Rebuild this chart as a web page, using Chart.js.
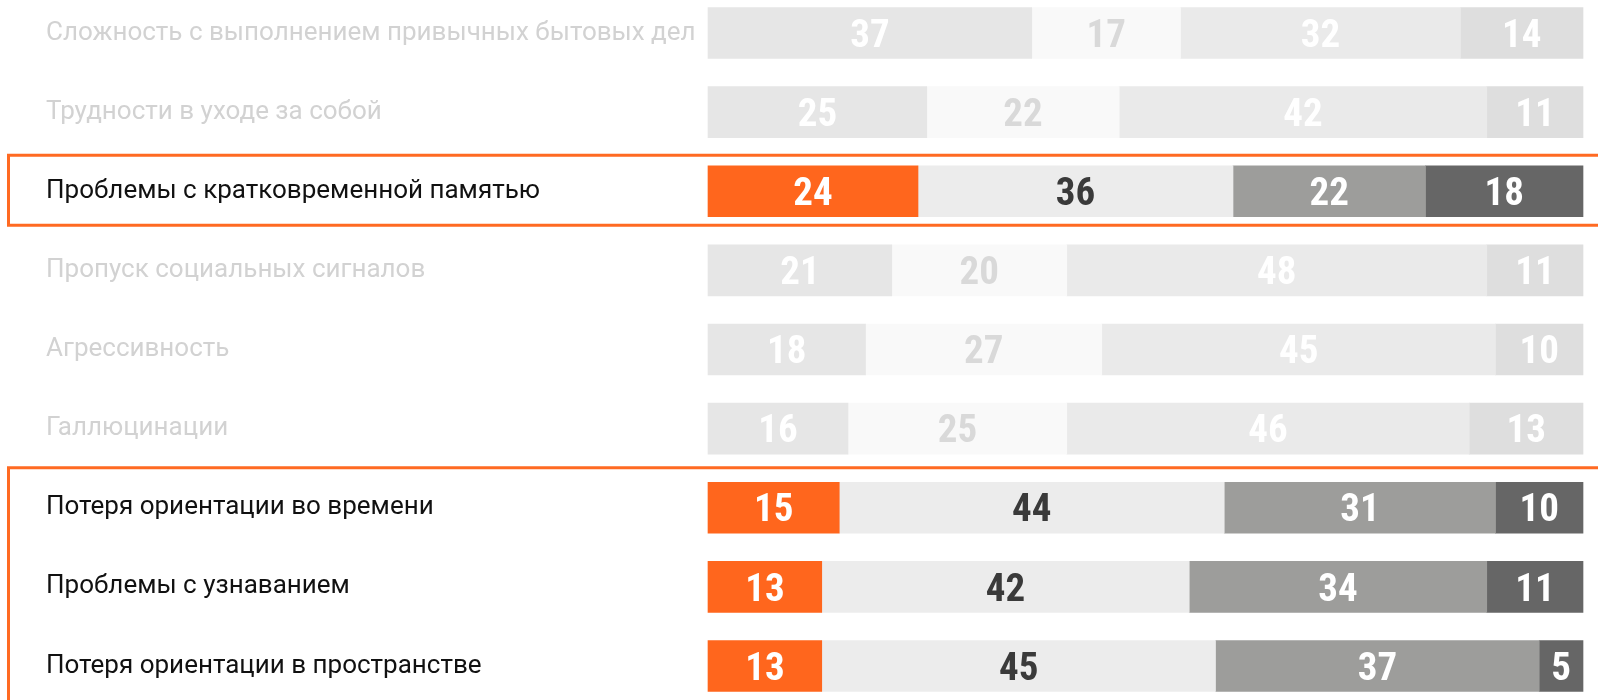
<!DOCTYPE html>
<html>
<head>
<meta charset="utf-8">
<script src="https://cdn.jsdelivr.net/npm/chart.js@4/dist/chart.umd.min.js"></script>
<style>
  html, body { margin: 0; padding: 0; background: #ffffff; }
  #wrap { width: 1598px; height: 700px; position: relative; }
</style>
</head>
<body>
<div id="wrap"><canvas id="c" width="1598" height="700"></canvas></div>
<script>
const categories = [
  'Сложность с выполнением привычных бытовых дел',
  'Трудности в уходе за собой',
  'Проблемы с кратковременной памятью',
  'Пропуск социальных сигналов',
  'Агрессивность',
  'Галлюцинации',
  'Потеря ориентации во времени',
  'Проблемы с узнаванием',
  'Потеря ориентации в пространстве'
];
const series1 = [37, 25, 24, 21, 18, 16, 15, 13, 13];
const series2 = [17, 22, 36, 20, 27, 25, 44, 42, 45];
const series3 = [32, 42, 22, 48, 45, 46, 31, 34, 37];
const series4 = [14, 11, 18, 11, 10, 13, 10, 11, 5];
const highlighted = [false, false, true, false, false, false, true, true, true];
const highlightGroups = [[2, 2], [6, 8]];

const strongColors = ['#FF661D', '#ECECEC', '#9D9D9B', '#666666'];
const fadedColors  = ['#E6E6E6', '#F9F9F9', '#EAEAEA', '#DEDEDE'];
const strongText   = ['#FFFFFF', '#3A3A3A', '#FFFFFF', '#FFFFFF'];
const fadedText    = ['#FFFFFF', '#D9D9D9', '#FFFFFF', '#FFFFFF'];

function makeDataset(values, k) {
  return {
    label: 'S' + (k + 1),
    data: values,
    backgroundColor: ctx => highlighted[ctx.dataIndex] ? strongColors[k] : fadedColors[k],
    borderWidth: 0,
    barThickness: 51,
    clip: false
  };
}

const valueLabels = {
  id: 'valueLabels',
  afterDatasetsDraw(chart) {
    const ctx = chart.ctx;
    ctx.save();
    const size = 39;
    ctx.font = 'bold ' + size + 'px "Liberation Sans Narrow", "Roboto Condensed", Roboto, sans-serif';
    ctx.textAlign = 'center';
    ctx.textBaseline = 'alphabetic';
    chart.data.datasets.forEach((ds, di) => {
      const meta = chart.getDatasetMeta(di);
      meta.data.forEach((bar, i) => {
        const cx = (bar.x + bar.base) / 2;
        ctx.fillStyle = highlighted[i] ? strongText[di] : fadedText[di];
        ctx.fillText(String(ds.data[i]), cx, bar.y + size * 0.35);
      });
    });
    ctx.restore();
  }
};

const boxes = {
  id: 'boxes',
  afterDraw(chart) {
    const ctx = chart.ctx;
    const y = chart.scales.y;
    ctx.save();
    ctx.strokeStyle = '#FF6A22';
    ctx.lineWidth = 3;
    highlightGroups.forEach(([a, b], gi) => {
      const top = y.getPixelForValue(a) - (gi === 0 ? 36 : 40);
      const bottom = gi === 0 ? y.getPixelForValue(b) + 34 : chart.height + 20;
      ctx.strokeRect(8.5, top, chart.width + 20, bottom - top);
    });
    ctx.restore();
  }
};

new Chart(document.getElementById('c'), {
  type: 'bar',
  data: {
    labels: categories,
    datasets: [
      makeDataset(series1, 0),
      makeDataset(series2, 1),
      makeDataset(series3, 2),
      makeDataset(series4, 3)
    ]
  },
  options: {
    indexAxis: 'y',
    responsive: false,
    devicePixelRatio: 1,
    animation: false,
    events: [],
    layout: { padding: { left: 46, right: 15, top: 33, bottom: 34 } },
    plugins: { legend: { display: false }, tooltip: { enabled: false } },
    scales: {
      x: { stacked: true, min: 0, max: 100, display: false },
      y: {
        stacked: true,
        offset: false,
        grid: { display: false },
        border: { display: false },
        afterFit(scale) { scale.width = 662; },
        ticks: {
          autoSkip: false,
          crossAlign: 'far',
          padding: 0,
          color: ctx => highlighted[ctx.index] ? '#111111' : '#D2D2D2',
          font: { family: 'Roboto', size: 26 }
        }
      }
    }
  },
  plugins: [valueLabels, boxes]
});
</script>
</body>
</html>
